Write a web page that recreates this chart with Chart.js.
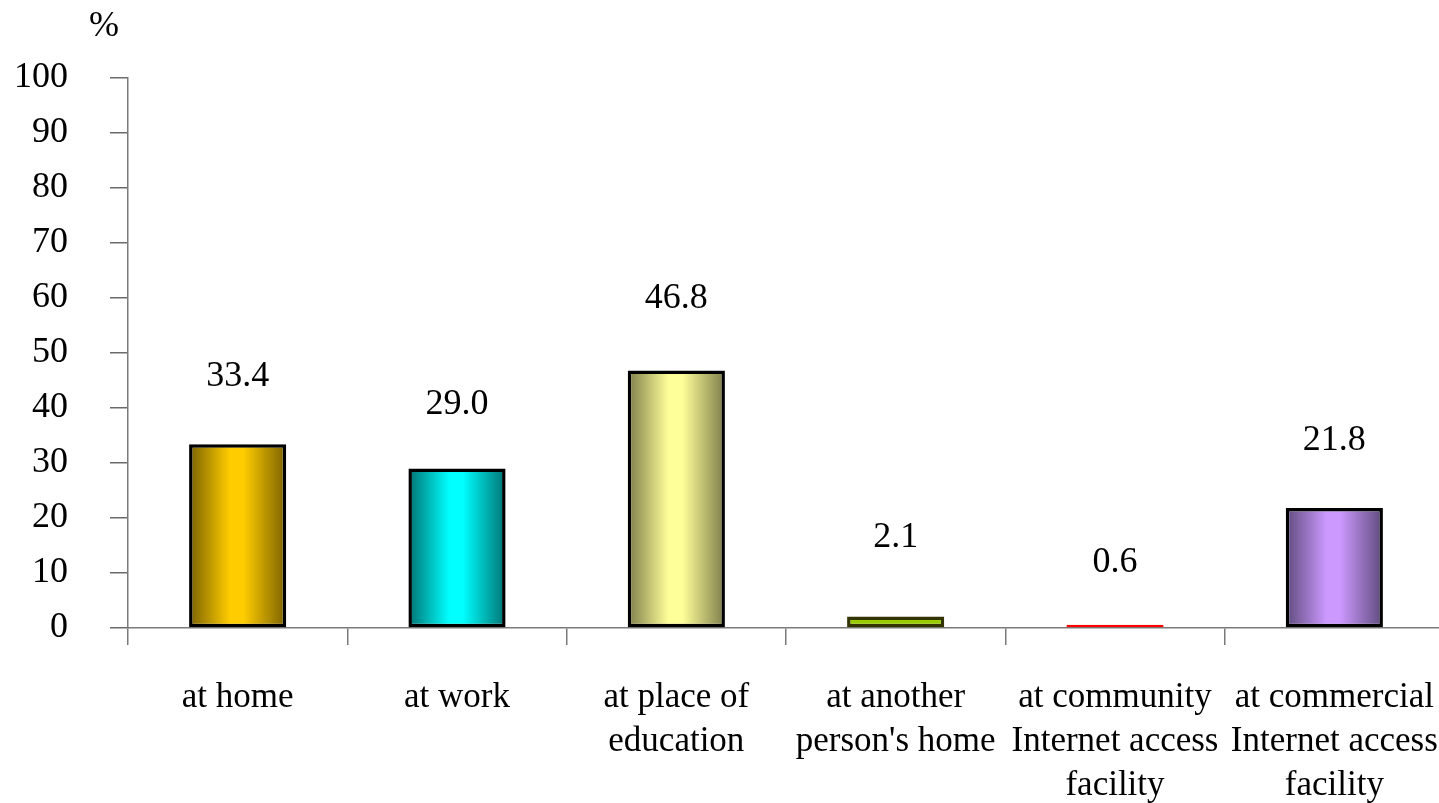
<!DOCTYPE html>
<html>
<head>
<meta charset="utf-8">
<script src="https://cdn.jsdelivr.net/npm/chart.js@4.4.1/dist/chart.umd.min.js"></script>
<style>
  html, body { margin: 0; padding: 0; background: #fff; overflow: hidden; }
  canvas { display: block; }
</style>
</head>
<body>
<canvas id="places" width="1444" height="803"></canvas>
<script>
// where people used the internet (%)
const places = [
    ["at home"],
    ["at work"],
    ["at place of", "education"],
    ["at another", "person's home"],
    ["at community", "Internet access", "facility"],
    ["at commercial", "Internet access", "facility"]
];
const shares = [33.4, 29.0, 46.8, 2.1, 0.6, 21.8];
const yTicks = [0, 10, 20, 30, 40, 50, 60, 70, 80, 90, 100];

// bar fill: [edge shade, centre shade]
const shades = [
    ["#7a6100", "#ffcc00"],
    ["#007272", "#00ffff"],
    ["#7d7d4a", "#ffff99"],
    ["#99cc00", "#99cc00"],
    ["#ff0000", "#ff0000"],
    ["#5e4a7c", "#cc99ff"]
];
const outlines = ["#000", "#000", "#000", "#333300", "#ff0000", "#000"];
const labelLift = [68, 64, 72, 79, 62, 68];

const serif = "'Liberation Serif', 'Times New Roman', serif";
const barPct = 0.443;

function barFill(ctx) {
    const chart = ctx.chart;
    const i = ctx.dataIndex;
    if (!chart.chartArea) return shades[i][1];
    const xs = chart.scales.x;
    const half = (xs.width / places.length) * barPct / 2;
    const cx = xs.getPixelForValue(i);
    const g = chart.ctx.createLinearGradient(cx - half, 0, cx + half, 0);
    g.addColorStop(0, shades[i][0]);
    g.addColorStop(0.42, shades[i][1]);
    g.addColorStop(0.56, shades[i][1]);
    g.addColorStop(1, shades[i][0]);
    return g;
}

const valueLabels = {
    id: "valueLabels",
    afterDatasetsDraw(chart) {
        const c = chart.ctx;
        const bars = chart.getDatasetMeta(0).data;
        c.save();
        c.font = "36px " + serif;
        c.fillStyle = "#000";
        c.textAlign = "center";
        c.textBaseline = "middle";
        bars.forEach((bar, i) => {
            c.fillText(shares[i].toFixed(1), bar.x, bar.y - labelLift[i]);
        });
        // unit above the value axis
        c.fillText("%", 104, 27);
        c.restore();
    }
};

new Chart(document.getElementById("places"), {
    type: "bar",
    data: {
        labels: places,
        datasets: [{
            data: shares,
            backgroundColor: barFill,
            borderColor: outlines,
            borderWidth: 3.5,
            borderSkipped: false,
            barPercentage: barPct,
            categoryPercentage: 1
        }]
    },
    options: {
        responsive: false,
        animation: false,
        layout: { padding: { top: 78, left: 0, right: 0, bottom: 0 } },
        plugins: {
            legend: { display: false },
            tooltip: { enabled: false }
        },
        scales: {
            x: {
                grid: {
                    drawOnChartArea: false,
                    drawTicks: true,
                    tickLength: 17,
                    color: "#7a7a7a",
                    lineWidth: 1.5
                },
                border: { color: "#7a7a7a", width: 1.5 },
                ticks: {
                    color: "#000",
                    padding: 31,
                    maxRotation: 0,
                    autoSkip: false,
                    font: { family: serif, size: 35, lineHeight: 1.25 }
                },
                afterFit(scale) {
                    scale.height = 175;
                    // let the outer labels run to the canvas edges
                    scale.paddingLeft = 0;
                    scale.paddingRight = 0;
                }
            },
            y: {
                min: 0,
                max: 100,
                afterBuildTicks(scale) {
                    scale.ticks = yTicks.map(v => ({ value: v }));
                },
                grid: {
                    drawOnChartArea: false,
                    drawTicks: true,
                    tickLength: 18,
                    color: "#6a6a6a",
                    lineWidth: 1.5
                },
                border: { color: "#7a7a7a", width: 1.5 },
                ticks: {
                    color: "#000",
                    padding: 42,
                    font: { family: serif, size: 36 }
                },
                afterFit(scale) { scale.width = 128; }
            }
        }
    },
    plugins: [valueLabels]
});
</script>
</body>
</html>
